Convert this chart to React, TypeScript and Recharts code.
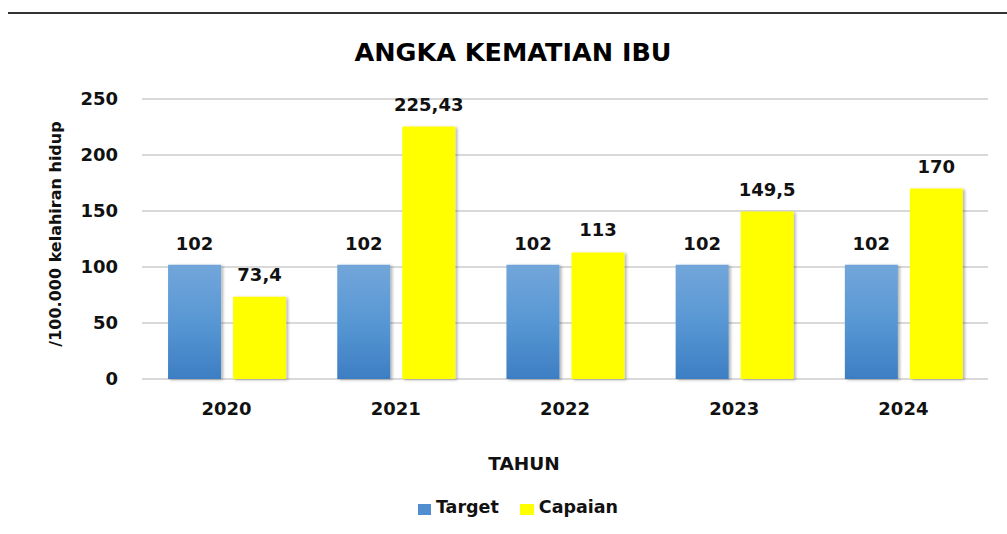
import {
  BarChart,
  Bar,
  XAxis,
  YAxis,
  CartesianGrid,
  Legend,
  LabelList,
} from 'recharts'

const years = ['2020', '2021', '2022', '2023', '2024']
const target = [102, 102, 102, 102, 102]
const capaian = [73.4, 225.43, 113, 149.5, 170]
const yTicks = [0, 50, 100, 150, 200, 250]

const data = years.map((year, i) => ({
  year,
  target: target[i],
  capaian: capaian[i],
}))

const FONT = '"DejaVu Sans", sans-serif'
const INK = '#111'

const fmt = (v: any) => String(v).replace('.', ',')

const LegendBox = () => (
  <div
    style={{
      display: 'flex',
      justifyContent: 'center',
      alignItems: 'center',
      height: 24,
      fontFamily: FONT,
      fontWeight: 700,
      fontSize: 17.5,
      lineHeight: 1,
      color: INK,
    }}
  >
    <span style={{ width: 13, height: 11, background: '#4f8fd0', marginTop: 3 }} />
    <span style={{ marginLeft: 5, marginRight: 21 }}>Target</span>
    <span style={{ width: 14, height: 11, background: '#ffff00', marginTop: 3 }} />
    <span style={{ marginLeft: 5 }}>Capaian</span>
  </div>
)

const App = () => {
  return (
    <div
      style={{
        position: 'absolute',
        left: 0,
        top: 0,
        width: 1007,
        height: 534,
        background: '#fff',
      }}
    >
      <div
        style={{
          position: 'absolute',
          left: 8,
          right: 0,
          top: 12,
          height: 2,
          background: '#333',
        }}
      />
      <div
        style={{
          position: 'absolute',
          top: 40,
          left: 513,
          transform: 'translateX(-50%)',
          whiteSpace: 'nowrap',
          fontFamily: FONT,
          fontWeight: 700,
          fontSize: 25.5,
          lineHeight: 1,
          color: '#000',
        }}
      >
        ANGKA KEMATIAN IBU
      </div>
      <BarChart
        width={1007}
        height={534}
        data={data}
        margin={{ top: 99, right: 19, left: 82, bottom: 51 }}
        barCategoryGap='15.4%'
        barGap={12}
      >
        <defs>
          <linearGradient id='targetFill' x1='0' y1='0' x2='0' y2='1'>
            <stop offset='0%' stopColor='#72a6da' />
            <stop offset='50%' stopColor='#5897d4' />
            <stop offset='100%' stopColor='#3d7ec3' />
          </linearGradient>
          <filter id='barShadow' x='-10%' y='-10%' width='130%' height='120%'>
            <feDropShadow dx='2' dy='1' stdDeviation='1.5' floodColor='#000' floodOpacity='0.3' />
          </filter>
        </defs>
        <CartesianGrid vertical={false} stroke='#d9d9d9' strokeWidth={2} />
        <XAxis
          dataKey='year'
          height={80}
          axisLine={false}
          tickLine={false}
          tickSize={0}
          tickMargin={23}
          tick={{ fill: INK, fontSize: 18, fontWeight: 700, fontFamily: FONT }}
          label={({ viewBox }: any) => (
            <text
              x={524}
              y={viewBox.y + 91}
              textAnchor='middle'
              fill={INK}
              fontFamily={FONT}
              fontWeight={700}
              fontSize={18.5}
            >
              TAHUN
            </text>
          )}
        />
        <YAxis
          width={60}
          domain={[0, 250]}
          ticks={yTicks}
          axisLine={false}
          tickLine={false}
          tickSize={0}
          tickMargin={24}
          tick={{ fill: INK, fontSize: 18, fontWeight: 700, fontFamily: FONT }}
          label={() => (
            <text
              x={61}
              y={234}
              transform='rotate(-90, 61, 234)'
              textAnchor='middle'
              fill={INK}
              fontFamily={FONT}
              fontWeight={700}
              fontSize={16}
            >
              /100.000 kelahiran hidup
            </text>
          )}
        />
        <Legend
          verticalAlign='bottom'
          content={<LegendBox />}
          wrapperStyle={{ top: 496, bottom: 'auto', left: 0, width: 1036, height: 24 }}
        />
        <Bar
          dataKey='target'
          name='Target'
          fill='url(#targetFill)'
          filter='url(#barShadow)'
          isAnimationActive={false}
        >
          <LabelList
            dataKey='target'
            position='top'
            offset={15}
            formatter={fmt}
            fill={INK}
            fontFamily={FONT}
            fontWeight={700}
            fontSize={18}
          />
        </Bar>
        <Bar
          dataKey='capaian'
          name='Capaian'
          fill='#ffff00'
          filter='url(#barShadow)'
          isAnimationActive={false}
        >
          <LabelList
            dataKey='capaian'
            position='top'
            offset={16}
            formatter={fmt}
            fill={INK}
            fontFamily={FONT}
            fontWeight={700}
            fontSize={18}
          />
        </Bar>
      </BarChart>
    </div>
  )
}

export default App
